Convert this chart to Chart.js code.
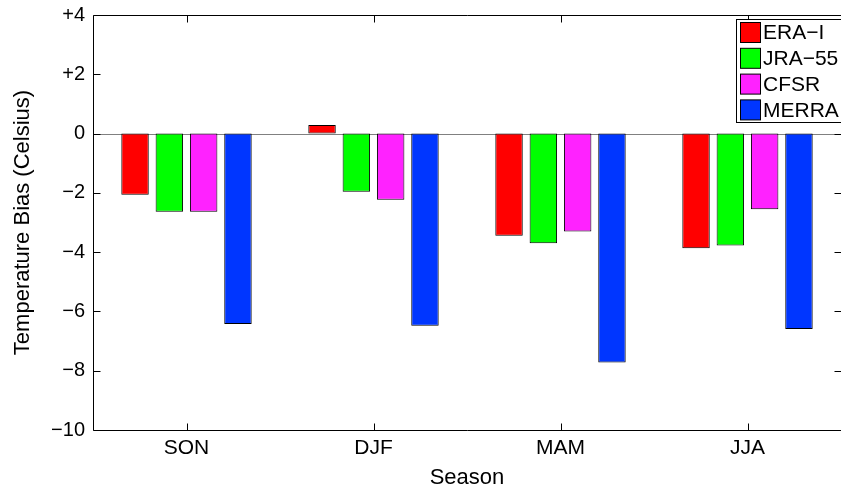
<!DOCTYPE html>
<html>
<head>
<meta charset="utf-8">
<script src="https://cdn.jsdelivr.net/npm/chart.js@4.4.1/dist/chart.umd.min.js"></script>
<style>
  html, body { margin: 0; padding: 0; background: #fff; }
  #wrap { width: 841px; height: 491px; }
</style>
</head>
<body>
<div id="wrap"><canvas id="biasChart"></canvas></div>
<script>
// Seasonal temperature bias per reanalysis (Celsius)
const seasons = ['SON', 'DJF', 'MAM', 'JJA'];
const seriesNames = ['ERA\u2212I', 'JRA\u221255', 'CFSR', 'MERRA'];
const eraI = [-2.06, 0.29, -3.45, -3.87];
const jra55 = [-2.64, -1.96, -3.70, -3.78];
const cfsr = [-2.64, -2.23, -3.30, -2.55];
const merra = [-6.42, -6.48, -7.72, -6.59];
const yTicks = [4, 2, 0, -2, -4, -6, -8, -10];

const colors = ['#ff0000', '#00ff00', '#ff22ff', '#0036ff'];
const font = 'Liberation Sans, Arial, Helvetica, sans-serif';

function fmtTick(v) {
  if (v > 0) return '+' + v;
  if (v < 0) return '\u2212' + Math.abs(v);
  return '0';
}

// MATLAB-style frame: box, inward ticks on all four sides, zero line, legend inside
const frame = {
  id: 'frame',
  beforeDatasetsDraw(chart) {
    const { ctx, chartArea: a, scales: { y } } = chart;
    const y0 = Math.round(y.getPixelForValue(0)) + 0.5;
    ctx.save();
    ctx.strokeStyle = '#808080';
    ctx.lineWidth = 1;
    ctx.beginPath();
    ctx.moveTo(a.left, y0);
    ctx.lineTo(a.right, y0);
    ctx.stroke();
    ctx.restore();
  },
  afterDraw(chart) {
    const { ctx, chartArea: a, scales: { x, y } } = chart;
    const L = Math.round(a.left) + 0.5, R = Math.round(a.right) - 0.5;
    const T = Math.round(a.top) + 0.5, B = Math.round(a.bottom) + 0.5;
    ctx.save();
    ctx.strokeStyle = '#000';
    ctx.lineWidth = 1;
    ctx.beginPath();
    // right edge of the box falls just off the canvas
    ctx.moveTo(a.right + 2, T); ctx.lineTo(L, T); ctx.lineTo(L, B); ctx.lineTo(a.right + 2, B);
    yTicks.forEach(v => {
      const py = Math.round(y.getPixelForValue(v)) + 0.5;
      ctx.moveTo(L, py); ctx.lineTo(L + 7, py);
      ctx.moveTo(a.right, py); ctx.lineTo(R - 6, py);
    });
    seasons.forEach((s, i) => {
      const px = Math.round(x.getPixelForValue(i)) + 0.5;
      ctx.moveTo(px, B); ctx.lineTo(px, B - 7);
      ctx.moveTo(px, T); ctx.lineTo(px, T + 7);
    });
    ctx.stroke();

    // legend box
    const lx = 736.5, ly = 19.5, lw = 120, lh = 103;
    ctx.fillStyle = '#fff';
    ctx.fillRect(lx, ly, lw, lh);
    ctx.strokeRect(lx, ly, lw, lh);
    ctx.font = '21px ' + font;
    ctx.textBaseline = 'middle';
    ctx.textAlign = 'left';
    chart.data.datasets.forEach((ds, i) => {
      const top = 22 + i * 25.8;
      ctx.fillStyle = ds.backgroundColor;
      ctx.fillRect(740.5, top + 0.5, 20, 20);
      ctx.strokeRect(740.5, top + 0.5, 20, 20);
      ctx.fillStyle = '#000';
      ctx.fillText(ds.label, 763, top + 11.5);
    });
    ctx.restore();
  }
};

const values = [eraI, jra55, cfsr, merra];

new Chart(document.getElementById('biasChart'), {
  type: 'bar',
  data: {
    labels: seasons,
    datasets: seriesNames.map((name, i) => ({
      label: name,
      data: values[i],
      backgroundColor: colors[i],
      borderColor: '#000',
      borderWidth: 1,
      borderSkipped: false,
      categoryPercentage: 0.734,
      barPercentage: 0.8
    }))
  },
  options: {
    responsive: true,
    maintainAspectRatio: false,
    animation: false,
    devicePixelRatio: 1,
    layout: { padding: { top: 15, right: 0, left: 0, bottom: 0 } },
    plugins: {
      legend: { display: false },
      tooltip: { enabled: false }
    },
    scales: {
      x: {
        grid: { display: false, drawTicks: false },
        border: { display: false },
        ticks: { color: '#000', font: { family: font, size: 21 }, padding: 6 },
        title: {
          display: true, text: 'Season', color: '#000',
          font: { family: font, size: 22 }, padding: { top: 0, bottom: 0 }
        },
        afterFit(s) { s.height = 61; s.paddingLeft = 0; s.paddingRight = 0; }
      },
      y: {
        min: -10,
        max: 4,
        grid: { display: false, drawTicks: false },
        border: { display: false },
        afterBuildTicks(s) { s.ticks = yTicks.map(v => ({ value: v })); },
        ticks: {
          color: '#000', font: { family: font, size: 20 }, padding: 8,
          callback: v => fmtTick(v)
        },
        title: {
          display: true, text: 'Temperature Bias (Celsius)', color: '#000',
          font: { family: font, size: 22 }, padding: { top: 10, bottom: 0 }
        },
        afterFit(s) { s.width = 93; s.paddingTop = 0; s.paddingBottom = 0; }
      }
    }
  },
  plugins: [frame]
});
</script>
</body>
</html>
